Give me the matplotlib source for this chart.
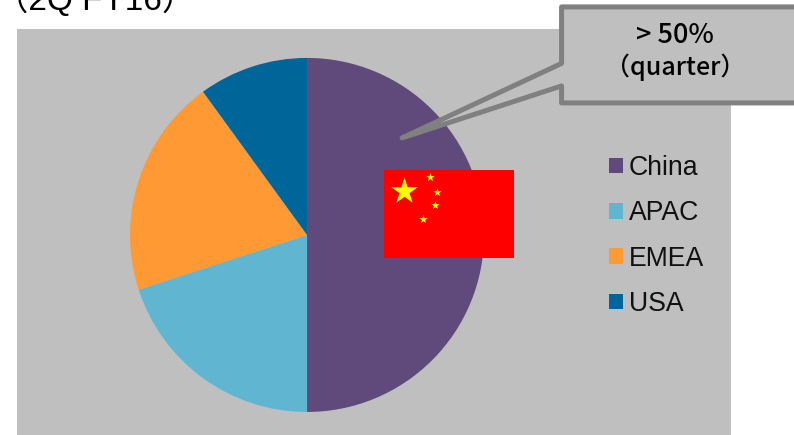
import matplotlib
matplotlib.use("Agg")
import matplotlib.pyplot as plt
from matplotlib.patches import Polygon, Rectangle

W, H = 794, 435
DPI = 100

regions = ["China", "APAC", "EMEA", "USA"]
shares = [50, 20, 20, 10]
region_colors = ["#604A7B", "#60B6D1", "#FF9933", "#006699"]

title_text = "（2Q FY16）"
callout_lines = ["> 50%", "（quarter）"]

PANEL = "#BFBFBF"
OUTLINE = "#808080"
CJK = ["Noto Sans CJK JP", "DejaVu Sans"]
LATIN = ["Liberation Sans", "Noto Sans CJK JP"]


def box(x0, y0, x1, y1):
    """Figure-fraction rectangle from pixel edges measured from the top left."""
    return [x0 / W, 1 - y1 / H, (x1 - x0) / W, (y1 - y0) / H]


# The small excess keeps the canvas from truncating to one pixel less
fig = plt.figure(figsize=((W + 0.1) / DPI, (H + 0.1) / DPI), dpi=DPI, facecolor="white")

# Grey plot area behind the pie
panel = fig.add_axes(box(17, 29, 731, 435))
panel.set_facecolor(PANEL)
panel.set_xticks([])
panel.set_yticks([])
for spine in panel.spines.values():
    spine.set_visible(False)

# Pie, clockwise from twelve o'clock
pie_ax = fig.add_axes(box(130, 58, 484, 412))
pie_ax.patch.set_visible(False)
wedges, _ = pie_ax.pie(shares, colors=region_colors, startangle=90,
                       counterclock=False, radius=1.0)
pie_ax.set_xlim(-1, 1)
pie_ax.set_ylim(-1, 1)

# Pixel-space layer for the flag, callout and title
top = fig.add_axes([0, 0, 1, 1])
top.set_xlim(0, W)
top.set_ylim(H, 0)
top.axis("off")
top.patch.set_visible(False)

# Flag
top.add_patch(Rectangle((383.5, 170), 130.5, 88, facecolor="#FF0000", edgecolor="none"))
top.scatter([403.5], [191.5], marker="*", s=400, color="#FFFF00", linewidths=0, zorder=3)
top.scatter([430, 437, 435, 423], [177, 192, 205.5, 219], marker="*", s=40,
            color="#FFFF00", linewidths=0, zorder=3)

# Callout with its pointer
callout = Polygon(
    [(561.5, 7), (800, 7), (800, 103), (561.5, 103), (561.5, 86), (402, 138), (561.5, 63.5)],
    closed=True, facecolor=PANEL, edgecolor=OUTLINE, linewidth=3.6,
    joinstyle="round", clip_on=False, zorder=4)
top.add_patch(callout)
top.text(675, 35, callout_lines[0], family=CJK, fontsize=19.5, fontweight="medium",
         ha="center", va="center", color="black", zorder=5)
top.text(675, 67, callout_lines[1], family=CJK, fontsize=18, fontweight="medium",
         ha="center", va="center", color="black", zorder=5)

# Title cut off by the top edge of the figure
top.text(95, 10, title_text, family=LATIN, fontsize=24, ha="center",
         va="baseline", color="black", clip_on=False)

leg = top.legend(wedges, regions, loc="upper left",
                 bbox_to_anchor=(609 / W, 1 - 155 / H),
                 frameon=False, prop={"family": "Liberation Sans", "size": 19.2},
                 handlelength=0.525, handleheight=0.525, handletextpad=0.22,
                 labelspacing=0.725, borderpad=0, borderaxespad=0)
for text in leg.get_texts():
    text.set_color("#111111")

fig.savefig("out.png", dpi=DPI, facecolor="white")
